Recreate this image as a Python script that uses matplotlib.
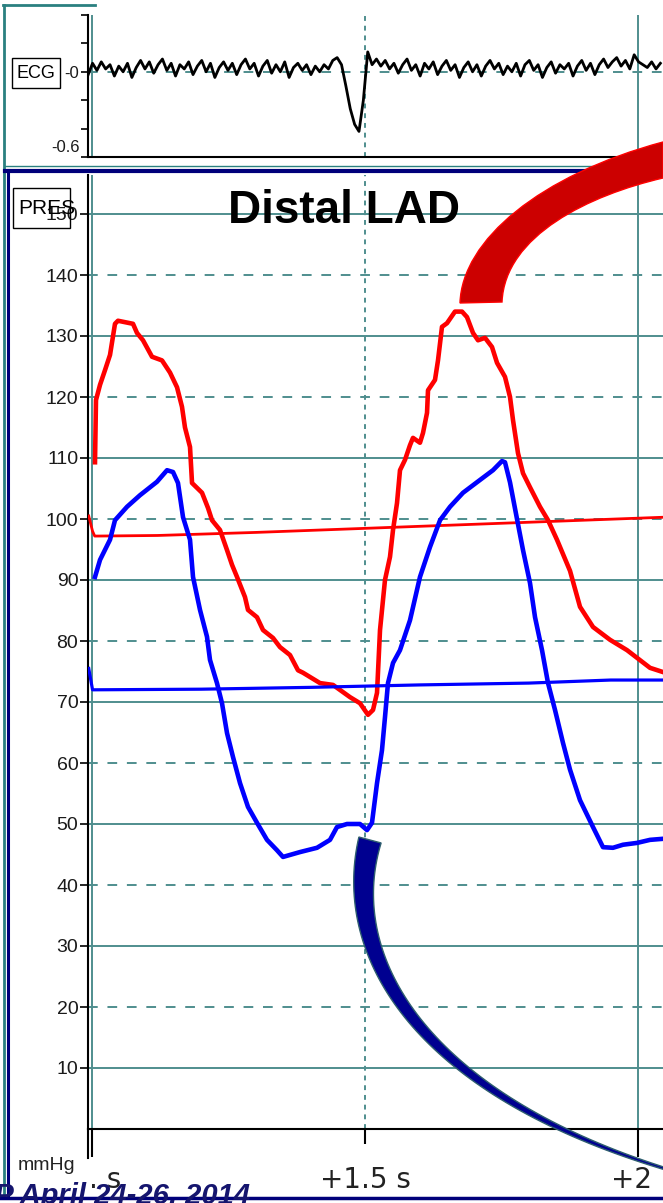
import numpy as np
import matplotlib
matplotlib.use("Agg")
import matplotlib.pyplot as plt
from matplotlib import font_manager
from matplotlib.transforms import Affine2D
from matplotlib.path import Path
from matplotlib.patches import PathPatch, Rectangle, Polygon
from matplotlib.lines import Line2D

# ---- data (time in s, pressure in mmHg) ----
red_t = [1.0055, 1.0073, 1.0147, 1.0238, 1.0330, 1.0421, 1.0476, 1.0751, 1.0824, 1.0934,
         1.1099, 1.1282, 1.1429, 1.1557, 1.1648, 1.1703, 1.1795, 1.1832, 1.2015, 1.2125,
         1.2198, 1.2344, 1.2473, 1.2564, 1.2656, 1.2802, 1.2857, 1.3022, 1.3132, 1.3315,
         1.3443, 1.3626, 1.3773, 1.3864, 1.4176, 1.4414, 1.4725, 1.4908, 1.5055, 1.5147,
         1.5220, 1.5275, 1.5366, 1.5458, 1.5513, 1.5586, 1.5641, 1.5733, 1.5824, 1.5879,
         1.6007, 1.6062, 1.6136, 1.6154, 1.6282, 1.6337, 1.6410, 1.6502, 1.6648, 1.6777,
         1.6868, 1.6978, 1.7070, 1.7198, 1.7326, 1.7418, 1.7564, 1.7656, 1.7711, 1.7802,
         1.7894, 1.8022, 1.8205, 1.8352, 1.8516, 1.8755, 1.8938, 1.9176, 1.9487, 1.9799,
         2.0220, 2.0495]
red_v = [109.3, 119.5, 122.0, 124.4, 126.9, 132.0, 132.5, 132.0, 130.5, 129.3,
         126.6, 126.0, 124.0, 121.6, 118.4, 115.0, 111.8, 105.9, 104.3, 101.8,
         99.8, 98.2, 94.9, 92.5, 90.5, 87.2, 85.1, 83.9, 81.8, 80.5,
         79.0, 77.7, 75.2, 74.8, 73.1, 72.8, 70.8, 69.8, 67.9, 68.7,
         71.5, 81.8, 90.0, 93.8, 98.2, 102.6, 108.0, 109.7, 112.1, 113.3,
         112.5, 114.1, 117.4, 121.1, 122.8, 126.0, 131.5, 132.1, 134.0, 134.0,
         133.1, 130.5, 129.3, 129.7, 128.2, 125.6, 123.3, 120.0, 116.2, 110.8,
         107.5, 105.2, 102.0, 99.8, 96.6, 91.5, 85.6, 82.3, 80.2, 78.5,
         75.6, 74.8]

blue_t = [1.0055, 1.0147, 1.0330, 1.0421, 1.0641, 1.0879, 1.1190, 1.1374, 1.1484, 1.1575,
          1.1667, 1.1795, 1.1850, 1.1978, 1.2106, 1.2161, 1.2289, 1.2381, 1.2473, 1.2582,
          1.2711, 1.2857, 1.3022, 1.3205, 1.3388, 1.3498, 1.3810, 1.4121, 1.4359, 1.4487,
          1.4670, 1.4908, 1.5037, 1.5128, 1.5220, 1.5311, 1.5366, 1.5421, 1.5513, 1.5641,
          1.5824, 1.6007, 1.6190, 1.6374, 1.6557, 1.6795, 1.7106, 1.7344, 1.7509, 1.7564,
          1.7656, 1.7784, 1.7894, 1.8022, 1.8114, 1.8242, 1.8352, 1.8480, 1.8626, 1.8755,
          1.8938, 1.9176, 1.9359, 1.9542, 1.9725, 1.9982, 2.0220, 2.0495]
blue_v = [90.5, 93.3, 96.6, 99.8, 102.0, 103.9, 106.1, 108.0, 107.7, 105.9,
          100.3, 96.6, 90.5, 85.1, 80.7, 76.9, 73.1, 69.8, 64.9, 61.0,
          56.7, 52.8, 50.2, 47.4, 45.7, 44.6, 45.4, 46.1, 47.4, 49.5,
          50.0, 50.0, 49.0, 50.2, 56.7, 62.1, 67.5, 73.1, 76.4, 78.5,
          83.4, 90.5, 95.4, 99.8, 102.0, 104.3, 106.4, 108.0, 109.5, 109.3,
          106.0, 100.0, 94.9, 89.5, 83.9, 78.5, 73.1, 68.7, 63.3, 58.9,
          53.9, 49.5, 46.2, 46.1, 46.6, 46.9, 47.4, 47.6]

red_mean_t = [0.994, 1.001, 1.005, 1.12, 1.30, 1.45, 1.60, 1.75, 1.90, 2.05]
red_mean_v = [100.5, 98.0, 97.2, 97.3, 97.8, 98.3, 98.8, 99.3, 99.8, 100.3]
blue_mean_t = [0.994, 1.001, 1.005, 1.20, 1.40, 1.60, 1.80, 1.95, 2.05]
blue_mean_v = [75.5, 72.0, 72.0, 72.1, 72.4, 72.8, 73.1, 73.6, 73.6]

ecg_v = [-0.02, 0.06, 0.01, 0.07, 0.02, 0.05, -0.03, 0.04, 0.00, 0.06, -0.04, 0.03, 0.08, 0.02, 0.07, -0.01,
         0.05, 0.09, 0.01, 0.06, -0.03, 0.05, 0.02, 0.07, -0.02, 0.04, 0.08, 0.00, 0.06, -0.04, 0.03, 0.07,
         0.01, 0.06, -0.02, 0.05, 0.09, 0.02, 0.06, -0.03, 0.04, 0.08, -0.01, 0.05, 0.00, 0.07, -0.04, 0.03,
         0.06, 0.01, 0.05, -0.02, 0.04, 0.00, 0.05, 0.02, 0.08, 0.10, 0.05, -0.10, -0.26, -0.37, -0.42, -0.20,
         0.14, 0.05, 0.09, 0.04, 0.08, 0.02, 0.06, -0.01, 0.05, 0.09, 0.01, 0.05, -0.03, 0.06, 0.02, 0.07,
         -0.02, 0.04, 0.08, 0.01, 0.05, -0.04, 0.03, 0.07, 0.00, 0.05, -0.03, 0.04, 0.08, 0.02, 0.06, -0.02,
         0.04, 0.00, 0.06, -0.03, 0.05, 0.08, 0.01, 0.05, -0.04, 0.03, 0.07, -0.01, 0.05, 0.02, 0.06, -0.03,
         0.04, 0.08, 0.01, 0.06, -0.02, 0.05, 0.09, 0.03, 0.07, 0.10, 0.04, 0.08, 0.02, 0.12, 0.07, 0.05,
         0.03, 0.07, 0.02, 0.06]
ecg_t = np.linspace(0.993, 0.993 + 0.008 * (len(ecg_v) - 1), len(ecg_v))

pres_ticks = list(range(10, 151, 10))

# ---- fonts / colours ----
names = {f.name for f in font_manager.fontManager.ttflist}
NARROW = "Liberation Sans Narrow" if "Liberation Sans Narrow" in names else "Liberation Sans"
TEAL = "#4f8e8e"
FRAME_TEAL = "#2a8080"
NAVY = "#00007a"

W, H = 663, 1203
fig = plt.figure(figsize=(W / 100, H / 100), dpi=100)
px = Affine2D().scale(1 / W, -1 / H).translate(0, 1) + fig.transFigure


def t_of(x):
    return 1.5 + (x - 365) / 546


T0, T1 = t_of(88), t_of(663)

# ---- pressure panel ----
ax = fig.add_axes([88 / W, 1 - 1129 / H, 575 / W, (1129 - 175) / H])
ax.set_xlim(T0, T1)
ax.set_ylim(0, (1129 - 175) / 6.1)
for v in pres_ticks:
    ax.axhline(v, color=TEAL, lw=1.4, ls="-" if v % 20 == 10 else (0, (5, 5)), zorder=1)
ax.axvline(1.0, color=TEAL, lw=1.4, zorder=1)
ax.axvline(2.0, color=TEAL, lw=1.4, zorder=1)
ax.axvline(1.5, color=TEAL, lw=1.4, ls=(0, (2.5, 2.5)), zorder=1)

ax.plot(red_mean_t, red_mean_v, color="#ff0000", lw=2.0, zorder=3)
ax.plot(red_t, red_v, color="#ff0000", lw=3.3, zorder=4)
ax.plot(blue_t, blue_v, color="#0000ff", lw=3.3, zorder=5)
ax.plot(blue_mean_t, blue_mean_v, color="#0000ff", lw=2.3, zorder=6)

for s in ["top", "right"]:
    ax.spines[s].set_visible(False)
for s in ["left", "bottom"]:
    ax.spines[s].set_color("black")
    ax.spines[s].set_linewidth(1.5)
ax.axvline(T0, ymin=-0.03, ymax=0, color="black", lw=1.5, clip_on=False)

ax.set_yticks(pres_ticks)
ax.set_yticklabels([str(v) for v in pres_ticks])
ax.tick_params(axis="y", length=5.5, width=1.2, pad=1.5, labelsize=14, labelcolor="#1a1a1a")
for lbl in ax.get_yticklabels():
    lbl.set_family(NARROW)
ax.set_xticks([1.0, 2.0])
ax.set_xticks([1.5], minor=True)
ax.tick_params(axis="x", which="major", length=20, width=1.5, labelbottom=False)
ax.tick_params(axis="x", which="minor", length=11, width=1.5, labelbottom=False)

# ---- ECG panel ----
ax_e = fig.add_axes([88 / W, 1 - 157 / H, 575 / W, (157 - 15) / H])
ax_e.set_xlim(T0, T1)
ax_e.set_ylim(-0.6, 0.4)
ax_e.axhline(0, color=TEAL, lw=1.4, ls=(0, (5, 5)), zorder=1)
ax_e.axvline(1.0, color=TEAL, lw=1.4, zorder=1)
ax_e.axvline(2.0, color=TEAL, lw=1.4, zorder=1)
ax_e.axvline(1.5, color=TEAL, lw=1.4, ls=(0, (2.5, 2.5)), zorder=1)
ax_e.plot(ecg_t, ecg_v, color="black", lw=2.0, zorder=3)
for s in ["top", "right"]:
    ax_e.spines[s].set_visible(False)
for s in ["left", "bottom"]:
    ax_e.spines[s].set_color("black")
    ax_e.spines[s].set_linewidth(1.5)
ax_e.set_xticks([])
ax_e.set_yticks([-0.6, -0.4, -0.2, 0, 0.2, 0.4])
ax_e.set_yticklabels(["", "", "", "-0", "", ""])
ax_e.tick_params(axis="y", length=5, width=1.2, pad=1.5, labelsize=12, labelcolor="#1a1a1a")
for lbl in ax_e.get_yticklabels():
    lbl.set_family(NARROW)

# ---- labels ----
fig.text(80, 148, "-0.6", transform=px, ha="right", va="center", fontsize=12,
         family=NARROW, color="#1a1a1a")
fig.add_artist(Rectangle((12, 58), 48, 30, transform=px, fill=False, ec="black", lw=1))
fig.text(36, 73, "ECG", transform=px, ha="center", va="center", fontsize=13, family=NARROW)
fig.add_artist(Rectangle((13, 188), 57, 40, transform=px, fill=False, ec="black", lw=1))
fig.text(18, 208, "PRES", transform=px, ha="left", va="center", fontsize=15, family=NARROW)
fig.text(75, 1166, "mmHg", transform=px, ha="right", va="center", fontsize=14,
         family=NARROW, color="#222222")
fig.text(89, 1188, ". s", transform=px, ha="left", va="baseline", fontsize=20,
         family="DejaVu Sans", color="#222222")
fig.text(365, 1188, "+1.5 s", transform=px, ha="center", va="baseline", fontsize=20,
         family="DejaVu Sans", color="#222222")
fig.text(632, 1188, "+2", transform=px, ha="center", va="baseline", fontsize=20,
         family="DejaVu Sans", color="#222222")
fig.text(343.5, 223, "Distal LAD", transform=px, ha="center", va="baseline", fontsize=33,
         weight="bold", family="Liberation Sans", color="black")

# ---- window frame ----
fig.add_artist(Line2D([4, 4], [5, 1197], color=FRAME_TEAL, lw=2, transform=px))
fig.add_artist(Line2D([3, 95], [5, 5], color=FRAME_TEAL, lw=2, transform=px))
fig.add_artist(Line2D([5, 663], [166, 166], color=FRAME_TEAL, lw=1, transform=px))
fig.add_artist(Line2D([5, 663], [171, 171], color=NAVY, lw=3, transform=px))
fig.add_artist(Line2D([8, 8], [170, 1197], color=NAVY, lw=2.2, transform=px))
fig.add_artist(Line2D([0, 663], [1198, 1198], color=NAVY, lw=2.5, transform=px))

fig.text(250, 1204, "TCTAP April 24-26, 2014", transform=px, ha="right", va="baseline",
         fontsize=21, weight="bold", style="italic", family="Liberation Sans", color="#15156e")

# ---- curved callout arrows ----
C = Path.CURVE4
red_path = Path([(460, 303), (462, 240), (540, 175), (663, 142), (663, 178),
                 (590, 195), (505, 235), (502, 302), (460, 303)],
                [Path.MOVETO, C, C, C, Path.LINETO, C, C, C, Path.CLOSEPOLY])
fig.add_artist(PathPatch(red_path, transform=px, fc="#cc0000", ec="#ff0000", lw=1, zorder=10))

# blue callout: tapering band along a bezier centre line
Q = np.array([(370, 840), (338, 960), (425, 1102), (690, 1176)], float)
s = np.linspace(0, 1, 80)[:, None]
centre = (1 - s) ** 3 * Q[0] + 3 * (1 - s) ** 2 * s * Q[1] + 3 * (1 - s) * s ** 2 * Q[2] + s ** 3 * Q[3]
tang = 3 * (1 - s) ** 2 * (Q[1] - Q[0]) + 6 * (1 - s) * s * (Q[2] - Q[1]) + 3 * s ** 2 * (Q[3] - Q[2])
tang = tang / np.linalg.norm(tang, axis=1, keepdims=True)
normal = np.column_stack([-tang[:, 1], tang[:, 0]])
half = (2 + 21 * (1 - s[:, 0]) ** 1.2)[:, None] / 2
band = np.vstack([centre + normal * half, (centre - normal * half)[::-1]])
fig.add_artist(Polygon(band, closed=True, transform=px, fc="#000090", ec="#2f5f6f", lw=1, zorder=10))

fig.savefig("out.png", dpi=100)
